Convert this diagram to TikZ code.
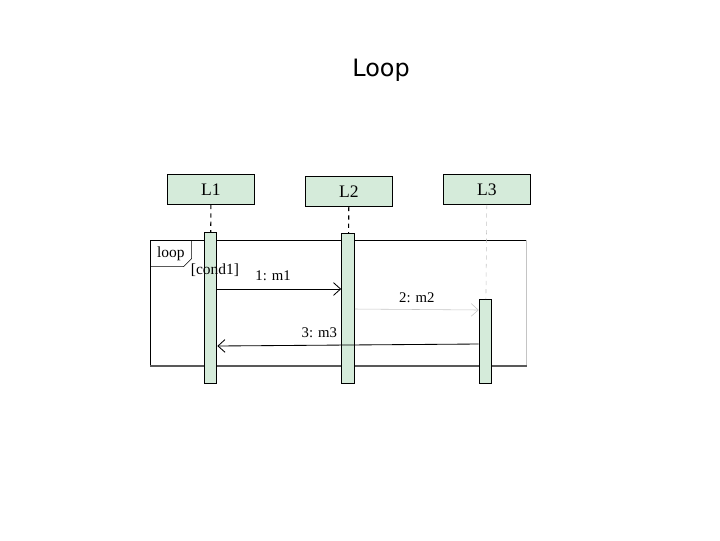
\documentclass[tikz,border=0pt]{standalone}
\usepackage{fontspec}
\setmainfont{Liberation Serif}
\newfontfamily\titlefont{DejaVu Sans}
\usetikzlibrary{positioning,arrows.meta,calc}
\definecolor{lifefill}{HTML}{D5EBDA}
\definecolor{paleline}{HTML}{C4C4C4}

\begin{document}
\begin{tikzpicture}[x=0.025cm,y=-0.025cm,font=\fontsize{10.5}{12}\selectfont,
    head/.style={draw,semithick,fill=lifefill,minimum width=2.175cm,minimum height=0.75cm,anchor=north west,inner sep=0pt,font=\fontsize{12.5}{14}\selectfont},
    bar/.style={draw,semithick,fill=lifefill,minimum width=0.32cm,anchor=north,inner sep=0pt},
    msg/.style={-{Straight Barb[length=5pt,width=9pt]},semithick}]
        \useasboundingbox (0,0) rectangle (720,540);
        \node (title) at (381,70) {\titlefont\fontsize{17}{19}\selectfont Loop};
        % lifeline heads
        \node[head] (l1) at (167,174) {L1};
        \node[head] (l2) at (305,176) {L2};
        \node[head] (l3) at (443,174) {L3};
        % loop frame
        \node[minimum width=9.4cm,minimum height=3.125cm,anchor=north west,inner sep=0pt] (frame) at (150,240) {};
        \draw[semithick] (frame.south west) -- (frame.north west) -- (frame.north east);
        \draw[paleline] (frame.north east) -- (frame.south east);
        \draw[black!65,line width=1.5pt] (frame.south west) -- (frame.south east);
        \node[minimum width=1.025cm,minimum height=0.65cm,anchor=north west,inner sep=0pt,font=\fontsize{11}{13}\selectfont] (tag) at (150,240) {loop};
        \draw (tag.south west) -- ([xshift=-0.2cm]tag.south east) -- ([yshift=0.2cm]tag.south east) -- (tag.north east);
        % activations
        \node[bar,minimum height=3.775cm] (a1) at (210.5,232) {};
        \node[bar,minimum height=3.75cm] (a2) at (348,233) {};
        \node[bar,minimum height=2.1cm] (a3) at (485.5,299) {};
        \draw[dashed,thick] (l1) -- (a1);
        \draw[dashed,thick] (l2) -- (a2);
        \draw[dashed,paleline] (l3) -- (a3);
        \node[font=\fontsize{11}{13}\selectfont] (cond) at (215,270) {[cond1]};
        % messages
        \draw[msg] (a1.east |- 0,289) -- node[pos=0.45,above=2pt] {1: m1} (a2.west |- 0,289);
        \draw[msg,thin,paleline] (a2.east |- 0,309) -- node[above=1pt,text=black] {2: m2} (a3.west |- 0,310);
        \draw[msg] (a3.west |- 0,344) -- node[pos=0.61,above=2pt] {3: m3} (a1.east |- 0,346);
      \end{tikzpicture}
\end{document}
